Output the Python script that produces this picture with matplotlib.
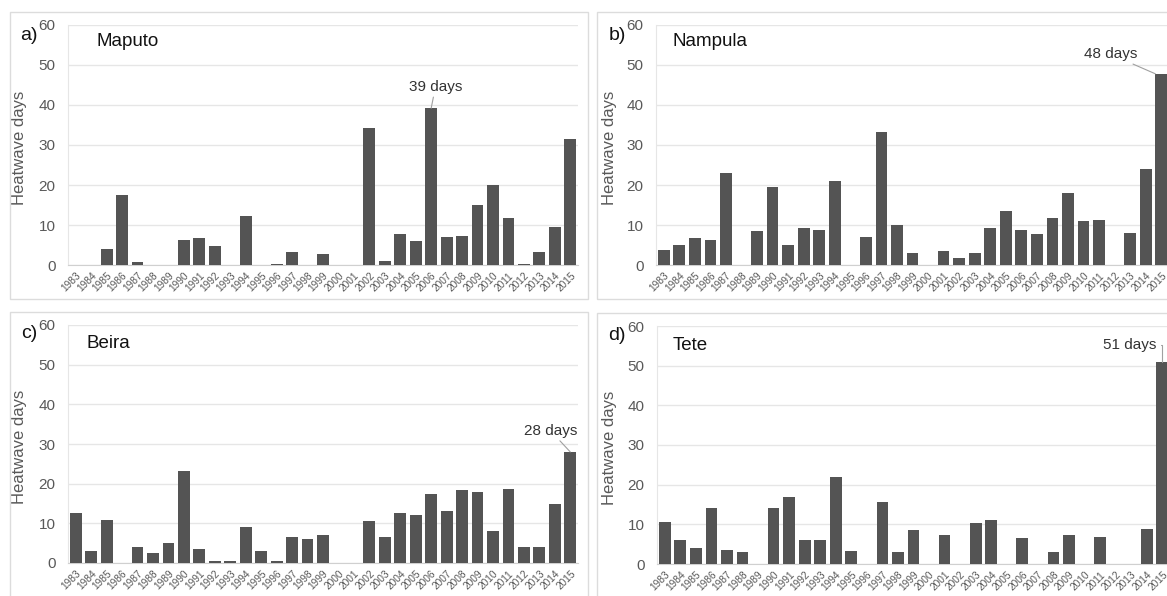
import matplotlib
matplotlib.use("Agg")
import matplotlib.pyplot as plt
from matplotlib.patches import Rectangle

plt.rcParams['font.family'] = ['Liberation Sans', 'DejaVu Sans']

years = ['1983', '1984', '1985', '1986', '1987', '1988', '1989', '1990', '1991', '1992',
         '1993', '1994', '1995', '1996', '1997', '1998', '1999', '2000', '2001', '2002',
         '2003', '2004', '2005', '2006', '2007', '2008', '2009', '2010', '2011', '2012',
         '2013', '2014', '2015']

maputo = [0, 0, 4.0, 17.6, 0.7, 0, 0, 6.2, 6.8, 4.8,
          0, 12.2, 0, 0.3, 3.3, 0, 2.8, 0, 0, 34.2,
          0.9, 7.8, 5.9, 39.2, 7.1, 7.3, 15.0, 20.0, 11.8, 0.3,
          3.3, 9.5, 31.5]
nampula = [3.7, 5.0, 6.8, 6.2, 23.0, 0, 8.5, 19.5, 5.0, 9.3,
           8.8, 21.0, 0, 7.0, 33.3, 10.0, 3.0, 0, 3.5, 1.7,
           3.0, 9.3, 13.6, 8.7, 7.7, 11.8, 18.0, 11.0, 11.2, 0,
           8.0, 24.0, 47.8]
beira = [12.5, 3.1, 10.8, 0, 4.1, 2.6, 5.0, 23.1, 3.5, 0.4,
         0.4, 9.0, 3.0, 0.4, 6.5, 6.0, 7.0, 0, 0, 10.5,
         6.5, 12.5, 12.1, 17.3, 13.1, 18.5, 18.0, 8.1, 18.7, 4.1,
         4.0, 15.0, 28.0]
tete = [10.6, 6.0, 4.0, 14.2, 3.5, 3.0, 0, 14.2, 16.9, 6.0,
        6.0, 22.0, 3.2, 0, 15.6, 3.0, 8.5, 0, 7.3, 0,
        10.4, 11.1, 0, 6.6, 0, 3.1, 7.4, 0, 6.7, 0,
        0, 8.9, 51.0]

panel_letters = ['a)', 'b)', 'c)', 'd)']
cities = ['Maputo', 'Nampula', 'Beira', 'Tete']
series = [maputo, nampula, beira, tete]
yticks = [0, 10, 20, 30, 40, 50, 60]

W, H = 1167, 596
fig = plt.figure(figsize=(W / 100, H / 100), dpi=100)

def fx(px):
    return px / W

def fy(py):
    return (H - py) / H

# panel frames (pixel boxes: x0, y0, x1, y1)
frames = [(10, 12, 588, 299), (597, 12, 1172, 299),
          (10, 312, 588, 600), (597, 313, 1172, 600)]
for x0, y0, x1, y1 in frames:
    fig.patches.append(Rectangle((fx(x0), fy(y1)), fx(x1) - fx(x0), fy(y0) - fy(y1),
                                 transform=fig.transFigure, fill=False,
                                 edgecolor='#dcdcdc', linewidth=1.0))

# axes boxes (left, right, top(60), bottom(0)) in pixels
boxes = [(68, 578, 25, 265), (656, 1169, 25, 265),
         (68, 578, 325, 563), (657, 1170, 326, 564)]
ylab_x = [27, 617, 27, 617]
letter_x = [29, 617, 29, 617]
letter_dy = [10, 10, 8, 9]
city_x = [96, 672, 86, 673]
city_dy = [17, 17, 18, 19]

grey = '#595959'
bar_color = '#545454'

axes = []
for i, (l, r, t, b) in enumerate(boxes):
    ax = fig.add_axes([fx(l), fy(b), fx(r) - fx(l), fy(t) - fy(b)])
    axes.append(ax)
    vals = series[i]
    xs = list(range(len(years)))
    ax.bar(xs, vals, width=0.76, color=bar_color, linewidth=0, zorder=3)
    ax.set_xlim(-0.5, len(years) - 0.5)
    ax.set_ylim(0, 60)
    ax.set_yticks(yticks)
    ax.set_yticklabels([str(v) for v in yticks], fontsize=11, color=grey)
    ax.set_xticks(xs)
    ax.set_xticklabels(years, rotation=45, ha='right', va='top',
                       rotation_mode='anchor', fontsize=7.3, color=grey)
    ax.tick_params(axis='both', length=0)
    ax.tick_params(axis='y', pad=9)
    ax.tick_params(axis='x', pad=4)
    ax.grid(axis='y', color='#e6e6e6', linewidth=1.0, zorder=0)
    for s in ['top', 'right']:
        ax.spines[s].set_visible(False)
    ax.spines['left'].set_color('#e6e6e6')
    ax.spines['bottom'].set_color('#d0d0d0')
    ax.set_facecolor('none')
    ax.set_ylabel('Heatwave days', fontsize=12, color=grey)
    ax.yaxis.set_label_coords((ylab_x[i] - l) / (r - l), 0.49)
    ax.text((letter_x[i] - l) / (r - l), 1 - letter_dy[i] / (b - t), panel_letters[i],
            transform=ax.transAxes, fontsize=14, color='#111111',
            ha='center', va='center')
    ax.text((city_x[i] - l) / (r - l), 1 - city_dy[i] / (b - t), cities[i],
            transform=ax.transAxes, fontsize=13.5, color='#111111',
            ha='left', va='center')

# annotations of maxima
line_kw = dict(arrowstyle='-', color='#a0a0a0', linewidth=0.8, shrinkA=0, shrinkB=0)

# Maputo: 39 days (2006)
ia = maputo.index(max(maputo))
axes[0].annotate(f'{round(maputo[ia])} days', xy=(ia, maputo[ia]), xytext=(3, 10),
                 textcoords='offset points', fontsize=11, color='#333333',
                 ha='center', va='bottom', arrowprops=line_kw)
# Nampula: 48 days (2015)
ib = nampula.index(max(nampula))
axes[1].annotate(f'{round(nampula[ib])} days', xy=(ib - 0.38, nampula[ib]), xytext=(-13, 9),
                 textcoords='offset points', fontsize=11, color='#333333',
                 ha='right', va='bottom', arrowprops=line_kw)
# Beira: 28 days (2015)
ic = beira.index(max(beira))
axes[2].annotate(f'{round(beira[ic])} days', xy=(ic, beira[ic]), xytext=(-14, 10),
                 textcoords='offset points', fontsize=11, color='#333333',
                 ha='center', va='bottom', arrowprops=line_kw)
# Tete: 51 days (2015)
idd = tete.index(max(tete))
axes[3].annotate(f'{round(tete[idd])} days', xy=(idd, tete[idd]), xytext=(-4, 12),
                 textcoords='offset points', fontsize=11, color='#333333',
                 ha='right', va='center',
                 arrowprops=dict(arrowstyle='-', color='#a0a0a0', linewidth=0.8,
                                 shrinkA=1, shrinkB=0,
                                 connectionstyle='angle,angleA=0,angleB=90,rad=0'))

fig.savefig('out.png', dpi=100, facecolor='white')
